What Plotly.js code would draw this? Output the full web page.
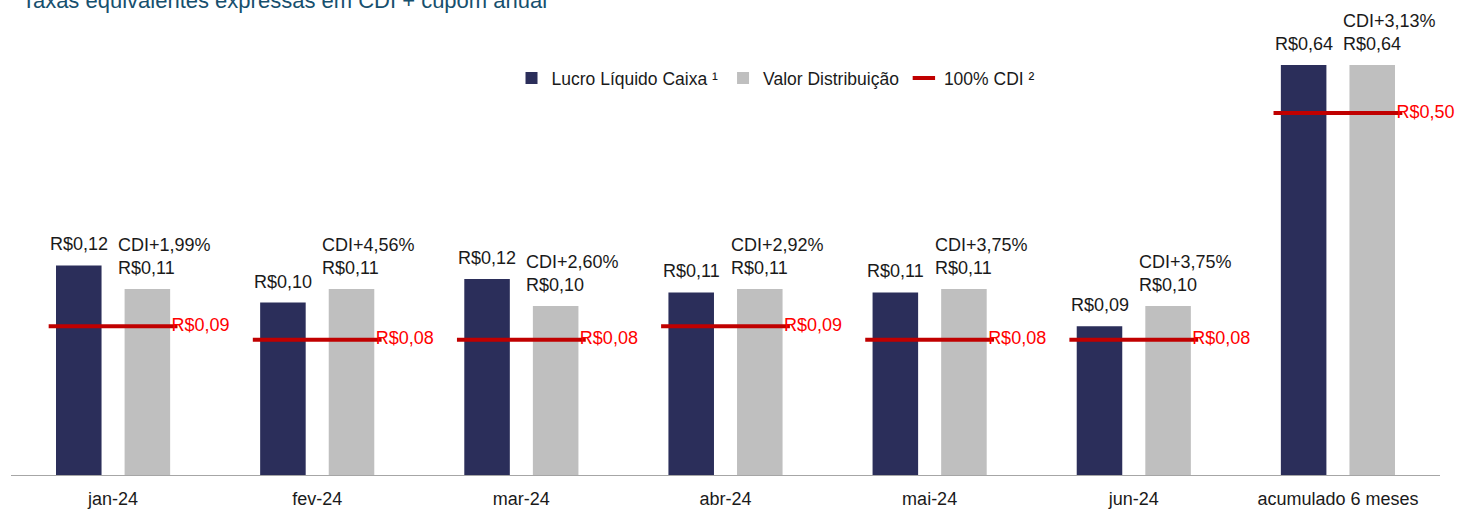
<!DOCTYPE html>
<html><head><meta charset="utf-8">
<script src="https://cdn.plot.ly/plotly-3.0.1.min.js"></script>
<style>html,body{margin:0;padding:0;background:#fff}#chart{width:1460px;height:510px}</style>
</head><body><div id="chart"></div>
<script>
// ---- data ----
const months = ['jan-24', 'fev-24', 'mar-24', 'abr-24', 'mai-24', 'jun-24'];
const totalLabel = ['acumulado 6 meses'];
const lucroMensal = [0.124, 0.102, 0.116, 0.108, 0.108, 0.088];
const distMensal = [0.110, 0.110, 0.100, 0.110, 0.110, 0.100];
const spreadMensal = [1.99, 4.56, 2.60, 2.92, 3.75, 3.75];
const cdiMensal = [0.088, 0.080, 0.080, 0.088, 0.080, 0.080];
const lucroAcum = [0.64];
const distAcum = [0.64];
const spreadAcum = [3.13];
const cdiAcum = [0.50];

const FONT = '"Liberation Sans", Arial, sans-serif';
const NAVY = '#2b2e5a', GRAY = '#bfbfbf', RED_LINE = '#c00000', RED_TXT = '#ff0000', TXT = '#1a1a1a';
const LBL = 18;

const brl = v => 'R$' + v.toFixed(2).replace('.', ',');
const pct = v => v.toFixed(2).replace('.', ',') + '%';

function lucro(x, y, ya, show) {
  return {type: 'bar', name: 'Lucro Líquido Caixa ¹', x: x, y: y, yaxis: ya, showlegend: show,
    legendgroup: 'l', marker: {color: NAVY}, hoverinfo: 'skip'};
}
function dist(x, y, ya, show) {
  return {type: 'bar', name: 'Valor Distribuição', x: x, y: y, yaxis: ya, showlegend: show,
    legendgroup: 'd', marker: {color: GRAY}, hoverinfo: 'skip'};
}
function cdi(x, y, ya, show) {
  return {type: 'scatter', mode: 'markers+text', name: '100% CDI ²', x: x, y: y, yaxis: ya, showlegend: show,
    legendgroup: 'c',
    marker: {symbol: 'line-ew', size: 92, color: RED_LINE, line: {color: RED_LINE, width: 4}},
    texttemplate: 'R$%{y:.2f}', textposition: 'middle right',
    textfont: {family: FONT, size: LBL, color: RED_TXT}, cliponaxis: false, hoverinfo: 'skip'};
}

const data = [
  lucro(months, lucroMensal, 'y', true),
  dist(months, distMensal, 'y', true),
  lucro(totalLabel, lucroAcum, 'y2', false),
  dist(totalLabel, distAcum, 'y2', false),
  cdi(months, cdiMensal, 'y', true),
  cdi(totalLabel, cdiAcum, 'y3', false)
];

// value labels above the bars
const annotations = [];
function addLabels(cats, lv, dv, sp, yref) {
  cats.forEach((c, i) => {
    annotations.push({x: c, y: lv[i], xref: 'x', yref: yref, text: brl(lv[i]), showarrow: false,
      xanchor: 'center', yanchor: 'bottom', xshift: -34, yshift: 9,
      font: {family: FONT, size: LBL, color: TXT}});
    annotations.push({x: c, y: dv[i], xref: 'x', yref: yref,
      text: 'CDI+' + pct(sp[i]) + '<br>' + brl(dv[i]), showarrow: false, align: 'left',
      xanchor: 'left', yanchor: 'bottom', xshift: 3, yshift: 9,
      font: {family: FONT, size: LBL, color: TXT}});
  });
}
addLabels(months, lucroMensal, distMensal, spreadMensal, 'y');
addLabels(totalLabel, lucroAcum, distAcum, spreadAcum, 'y2');

const hidden = {visible: true, showgrid: false, zeroline: false, showticklabels: false, ticks: '', showline: false, fixedrange: true};
const layout = {
  width: 1460, height: 510,
  paper_bgcolor: '#ffffff', plot_bgcolor: '#ffffff',
  separators: ',.',
  margin: {l: 11, r: 20, t: 20, b: 35},
  font: {family: FONT, size: LBL, color: TXT},
  title: {text: 'Taxas equivalentes expressas em CDI + cupom anual', x: 0.015, xanchor: 'left',
    xref: 'container', yref: 'container', y: 0.985, yanchor: 'bottom',
    font: {family: FONT, size: 22, color: '#17506e'}},
  barmode: 'group', bargap: 0.328, bargroupgap: 0.336,
  showlegend: true,
  legend: {orientation: 'h', x: 0.535, xanchor: 'center', y: 0.8725, yanchor: 'middle',
    font: {family: FONT, size: 17.5, color: TXT}, itemwidth: 30, traceorder: 'normal',
    bgcolor: 'rgba(0,0,0,0)'},
  xaxis: {type: 'category', categoryorder: 'array', categoryarray: months.concat(totalLabel),
    range: [-0.5, 6.5], autorange: false,
    showline: true, linecolor: '#a6a6a6', linewidth: 1, ticks: 'outside', ticklen: 7,
    tickcolor: 'rgba(0,0,0,0)', showgrid: false, zeroline: false,
    tickfont: {family: FONT, size: LBL, color: TXT}, fixedrange: true},
  yaxis: Object.assign({range: [0, 0.2692]}, hidden),
  yaxis2: Object.assign({range: [0, 0.7103], overlaying: 'y'}, hidden),
  yaxis3: Object.assign({range: [0, 0.6285], overlaying: 'y'}, hidden),
  annotations: annotations
};

Plotly.newPlot('chart', data, layout, {staticPlot: true, displayModeBar: false});
</script>
</body></html>
